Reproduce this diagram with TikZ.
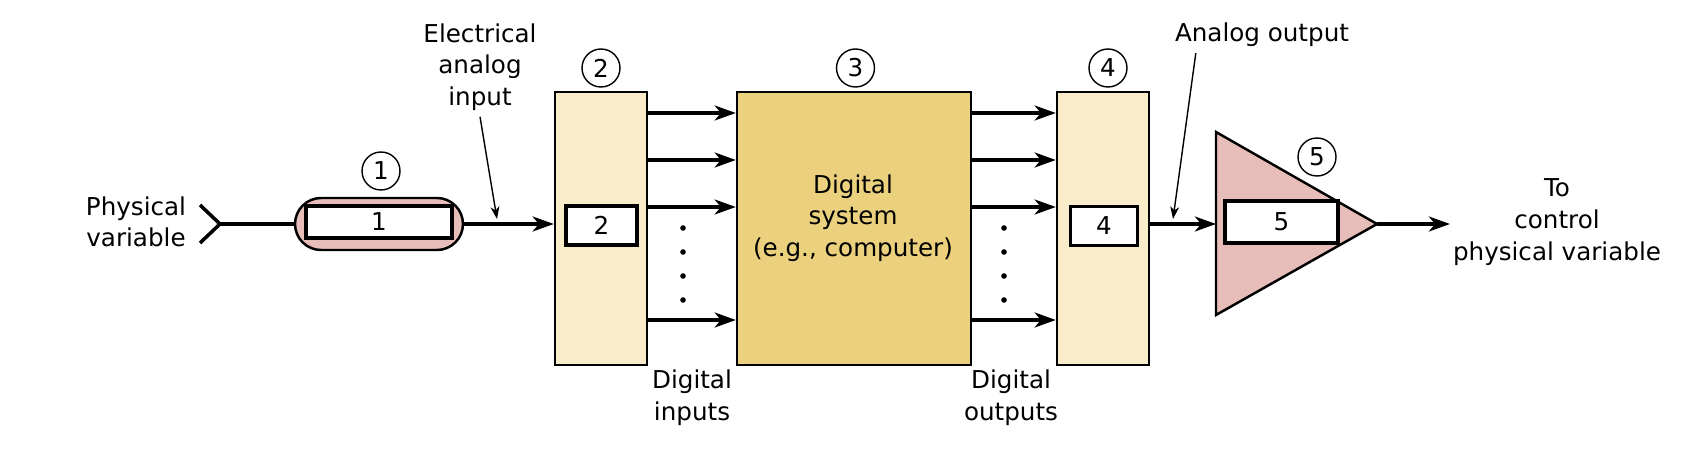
\documentclass[tikz,border=0pt]{standalone}
\usepackage{fontspec}
\setmainfont{DejaVu Sans}
\usepackage{xcolor}
\usetikzlibrary{positioning,arrows.meta}
\definecolor{pinkfill}{RGB}{231,189,185}
\definecolor{creamfill}{RGB}{249,236,202}
\definecolor{goldfill}{RGB}{235,209,126}

\begin{document}
\begin{tikzpicture}[x=0.02cm,y=-0.02cm,
  every node/.style={font=\fontsize{14}{18}\selectfont},
  lbl/.style={align=center},
  num/.style={draw,circle,line width=0.8pt,minimum size=0.76cm,inner sep=0pt},
  unit/.style={draw,line width=1.4pt,inner sep=0pt},
  inbox/.style={draw,fill=white,line width=2.1pt,inner sep=0pt},
  bus/.style={line width=2pt,-{Stealth[length=12pt,width=8.5pt,inset=3.5pt]}},
  pointer/.style={line width=0.8pt,-{Stealth[length=7pt,width=5pt,inset=2pt]}}]
\useasboundingbox (0,0) rectangle (1681,449);

% blocks
      \node[unit,fill=pinkfill,rounded corners=0.52cm,minimum width=3.36cm,minimum height=1.04cm] (trans) at (379,224) {};
      \node[inbox,minimum width=2.92cm,minimum height=0.64cm] (b1) at (379,222) {1};
      \node[unit,fill=creamfill,minimum width=1.84cm,minimum height=5.46cm] (adc) at (601,228.5) {};
      \node[inbox,minimum width=1.42cm,minimum height=0.78cm] (b2) at (601.5,225.5) {2};
      \node[unit,fill=goldfill,minimum width=4.68cm,minimum height=5.46cm] (cpu) at (854,228.5) {};
      \node[lbl] (cputxt) at (853,218) {Digital\\system\\(e.g., computer)};
      \node[unit,fill=creamfill,minimum width=1.84cm,minimum height=5.46cm] (dac) at (1103,228.5) {};
      \node[inbox,minimum width=1.34cm,minimum height=0.78cm] (b4) at (1104,226) {4};
      \draw[line width=1.4pt,fill=pinkfill] (1216,132) -- (1377,224) -- (1216,315) -- cycle;
      \coordinate (ampin) at (1216,224);
      \coordinate (ampout) at (1377,224);
      \node[inbox,minimum width=2.26cm,minimum height=0.84cm] (b5) at (1281.5,222) {5};

% numbers
      \node[num] (n1) at (381,171) {1};
      \node[num] (n2) at (601,68) {2};
      \node[num] (n3) at (855.5,68) {3};
      \node[num] (n4) at (1108,68) {4};
      \node[num] (n5) at (1317,157) {5};

% signal path
      \node[lbl] (phys) at (136,222) {Physical\\variable};
      \coordinate (src) at (220,224);
      \draw[line width=2pt] (200,205) -- (src) -- (200,243);
      \draw[line width=2pt] (src) -- (trans.west);
      \draw[bus] (trans.east) -- (adc.west |- trans.east);
      \foreach \y in {113,160,207,320} {
        \draw[bus] (adc.east |- 0,\y) -- (cpu.west |- 0,\y);
        \draw[bus] (cpu.east |- 0,\y) -- (dac.west |- 0,\y);
      }
      \foreach \y in {228,252,276,300} {
        \fill (683,\y) circle (1.6pt);
        \fill (1004,\y) circle (1.6pt);
      }
      \draw[bus] (dac.east |- ampin) -- (ampin);
      \coordinate (ctrl) at (1450,224);
      \draw[bus] (ampout) -- (ctrl);

% labels
      \node[lbl] (elec) at (480,67) {Electrical\\analog\\input};
      \coordinate (elecend) at (497,219);
      \draw[pointer] (elec.south) -- (elecend);
      \node (aout) at (1262,35) {Analog output};
      \coordinate (aoutend) at (1173,219);
      \draw[pointer] ([xshift=0.54cm]aout.south west) -- (aoutend);
      \node[lbl] (din) at (692,398) {Digital\\inputs};
      \node[lbl] (dout) at (1011,398) {Digital\\outputs};
      \node[lbl] (tocontrol) at (1557,222) {To\\control\\physical variable};
\end{tikzpicture}
\end{document}
